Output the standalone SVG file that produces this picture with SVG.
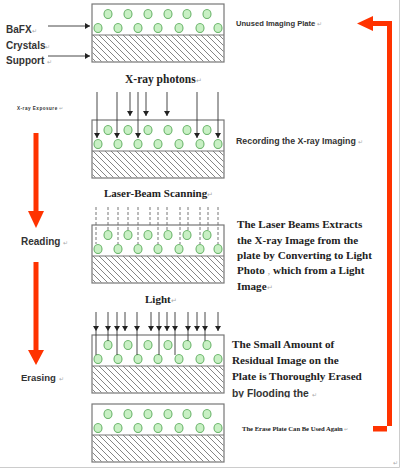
<svg xmlns="http://www.w3.org/2000/svg" xmlns:xlink="http://www.w3.org/1999/xlink" width="403" height="469" viewBox="0 0 403 469">
<style>
.sans{font-family:"Liberation Sans",Arial,sans-serif;font-weight:bold;fill:#333}
.serif{font-family:"Liberation Serif","Times New Roman",serif;font-weight:bold;fill:#222}
.pm{fill:#aaa;font-weight:normal}
.ray{stroke:#333;stroke-width:0.9;fill:none}
.dash{stroke:#666;stroke-width:0.9;stroke-dasharray:3,2;fill:none}
.red{fill:#ff3300}
.crystal{fill:#c8f0c4;stroke:#6ab46a;stroke-width:1.1}
</style>
<defs>
<pattern id="hatch" patternUnits="userSpaceOnUse" width="6" height="6">
<path d="M0,0 L6,6 M-1,5 L1,7 M5,-1 L7,1" stroke="#666" stroke-width="0.8"/>
</pattern>
<marker id="ah" markerUnits="userSpaceOnUse" markerWidth="6" markerHeight="6" refX="5" refY="3" orient="auto">
<path d="M0,0 L5,3 L0,6 z" fill="#222"/>
</marker>
<g id="plate">
<rect x="0" y="0" width="132" height="58" fill="#fff" stroke="#777" stroke-width="1.2"/>
<rect x="0.6" y="31" width="130.8" height="26.4" fill="url(#hatch)"/>
<line x1="0" y1="31" x2="132" y2="31" stroke="#777" stroke-width="1.2"/>
<g class="crystal">
<ellipse cx="16" cy="10" rx="4" ry="4.5"/>
<ellipse cx="36" cy="10" rx="4" ry="4.5"/>
<ellipse cx="56" cy="10" rx="4" ry="4.5"/>
<ellipse cx="76" cy="10" rx="4" ry="4.5"/>
<ellipse cx="95" cy="10" rx="4" ry="4.5"/>
<ellipse cx="115" cy="10" rx="4" ry="4.5"/>
<ellipse cx="6" cy="24" rx="4" ry="4.5"/>
<ellipse cx="26" cy="24" rx="4" ry="4.5"/>
<ellipse cx="46" cy="24" rx="4" ry="4.5"/>
<ellipse cx="66" cy="24" rx="4" ry="4.5"/>
<ellipse cx="87" cy="24" rx="4" ry="4.5"/>
<ellipse cx="108" cy="24" rx="4" ry="4.5"/>
<ellipse cx="126" cy="24" rx="4" ry="4.5"/>
</g>
</g>
<clipPath id="clipPara"><rect x="0" y="0" width="403" height="397.5"/></clipPath>
</defs>
<rect width="403" height="469" fill="#fff"/>
<polyline points="399.5,0 399.5,467.5 0,467.5" fill="none" stroke="#ccc" stroke-width="1"/>

<g id="plate1"><use xlink:href="#plate" href="#plate" x="92" y="4"/></g>
<g id="plate2"><use xlink:href="#plate" href="#plate" x="92" y="120"/></g>
<g id="plate3"><use xlink:href="#plate" href="#plate" x="92" y="225"/></g>
<g id="plate4"><use xlink:href="#plate" href="#plate" x="92" y="335"/></g>
<g id="plate5"><use xlink:href="#plate" href="#plate" x="92" y="404"/></g>

<g id="connectors">
<line class="ray" x1="48" y1="26" x2="90" y2="26" marker-end="url(#ah)" stroke-width="1.1"/>
<line class="ray" x1="48" y1="56" x2="90" y2="56" marker-end="url(#ah)" stroke-width="1.1"/>
<line class="ray" x1="97" y1="92" x2="97" y2="138" marker-end="url(#ah)"/>
<line class="ray" x1="117" y1="92" x2="117" y2="138" marker-end="url(#ah)"/>
<line class="ray" x1="130" y1="92" x2="130" y2="116" marker-end="url(#ah)"/>
<line class="ray" x1="138" y1="92" x2="138" y2="138" marker-end="url(#ah)"/>
<line class="ray" x1="146" y1="92" x2="146" y2="116" marker-end="url(#ah)"/>
<line class="ray" x1="167" y1="92" x2="167" y2="116" marker-end="url(#ah)"/>
<line class="ray" x1="197" y1="92" x2="197" y2="138" marker-end="url(#ah)"/>
<line class="ray" x1="218" y1="92" x2="218" y2="138" marker-end="url(#ah)"/>
<line class="dash" x1="96" y1="207" x2="96" y2="244"/>
<line class="dash" x1="108" y1="207" x2="108" y2="230"/>
<line class="dash" x1="118" y1="207" x2="118" y2="244"/>
<line class="dash" x1="128" y1="207" x2="128" y2="230"/>
<line class="dash" x1="138" y1="207" x2="138" y2="244"/>
<line class="dash" x1="150" y1="207" x2="150" y2="225"/>
<line class="dash" x1="158" y1="207" x2="158" y2="244"/>
<line class="dash" x1="167" y1="207" x2="167" y2="230"/>
<line class="dash" x1="180" y1="207" x2="180" y2="244"/>
<line class="dash" x1="188" y1="207" x2="188" y2="230"/>
<line class="dash" x1="200" y1="207" x2="200" y2="244"/>
<line class="dash" x1="208" y1="207" x2="208" y2="230"/>
<line class="dash" x1="218" y1="207" x2="218" y2="244"/>
<line class="ray" x1="96" y1="312" x2="96" y2="331" marker-end="url(#ah)"/>
<line class="ray" x1="108" y1="312" x2="108" y2="331" marker-end="url(#ah)"/>
<line class="ray" x1="117" y1="312" x2="117" y2="331" marker-end="url(#ah)"/>
<line class="ray" x1="125" y1="312" x2="125" y2="331" marker-end="url(#ah)"/>
<line class="ray" x1="137" y1="312" x2="137" y2="331" marker-end="url(#ah)"/>
<line class="ray" x1="151" y1="312" x2="151" y2="331" marker-end="url(#ah)"/>
<line class="ray" x1="159" y1="312" x2="159" y2="331" marker-end="url(#ah)"/>
<line class="ray" x1="167" y1="312" x2="167" y2="331" marker-end="url(#ah)"/>
<line class="ray" x1="175" y1="312" x2="175" y2="331" marker-end="url(#ah)"/>
<line class="ray" x1="188" y1="312" x2="188" y2="331" marker-end="url(#ah)"/>
<line class="ray" x1="197" y1="312" x2="197" y2="331" marker-end="url(#ah)"/>
<line class="ray" x1="205" y1="312" x2="205" y2="331" marker-end="url(#ah)"/>
<line class="ray" x1="218" y1="312" x2="218" y2="331" marker-end="url(#ah)"/>
<path class="ray" d="M96,331 V355 M108,331 V341 M117,331 V355 M137,331 V355 M159,331 V355 M175,331 V355 M188,331 V341 M205,331 V341"/>
<rect class="red" x="33.5" y="133" width="5" height="80"/>
<polygon class="red" points="28,211 44,211 36,228"/>
<rect class="red" x="33.5" y="262" width="5" height="90"/>
<polygon class="red" points="28,350 44,350 36,365"/>
<polygon class="red" points="373,426 392,426 392,21 373,21 373,16 357,23.5 373,31 373,26 387,26 387,431.5 373,431.5"/>
</g>

<g id="labels">
<text class="sans" x="6" y="33" font-size="10">BaFX<tspan class="pm" font-size="6">↵</tspan></text>
<text class="sans" x="6" y="49" font-size="10">Crystals<tspan class="pm" font-size="6">↵</tspan></text>
<text class="sans" x="6" y="64" font-size="10">Support <tspan class="pm" font-size="6">↵</tspan></text>
<text class="sans" x="236" y="26" font-size="7.6">Unused Imaging Plate <tspan class="pm" font-size="6">↵</tspan></text>
<text class="serif" x="125" y="83" font-size="11.5">X-ray photons<tspan class="pm" font-size="7">↵</tspan></text>
<text class="sans" x="17" y="110" font-size="4.6" font-weight="normal" letter-spacing="0.5">X-ray  Exposure <tspan class="pm">↵</tspan></text>
<text class="sans" x="236" y="144" font-size="8.8">Recording the X-ray Imaging <tspan class="pm" font-size="6">↵</tspan></text>
<text class="serif" x="104" y="197" font-size="11">Laser-Beam Scanning<tspan class="pm" font-size="7">↵</tspan></text>
<text class="sans" x="21" y="245" font-size="10">Reading <tspan class="pm" font-size="6">↵</tspan></text>
<text class="serif" font-size="11.1">
<tspan x="237" y="228">The Laser Beams Extracts</tspan>
<tspan x="237" y="244">the X-ray Image from the</tspan>
<tspan x="237" y="259">plate by Converting to Light</tspan>
<tspan x="237" y="274">Photo <tspan class="pm">,</tspan>    which from a Light</tspan>
<tspan x="237" y="290">Image<tspan class="pm" font-size="7">↵</tspan></tspan>
</text>
<text class="serif" x="145" y="303" font-size="11">Light<tspan class="pm" font-size="7">↵</tspan></text>
<text class="sans" x="21" y="381" font-size="9.5">Erasing <tspan class="pm" font-size="6">↵</tspan></text>
<g clip-path="url(#clipPara)">
<text class="serif" font-size="11.2">
<tspan x="232" y="348">The Small Amount of</tspan>
<tspan x="232" y="364">Residual Image on the</tspan>
<tspan x="232" y="380">Plate is Thoroughly Erased</tspan>
</text>
<text class="sans" x="232" y="397" font-size="10.3">by Flooding the <tspan class="pm" font-size="6">↵</tspan></text>
</g>
<text class="serif" x="242" y="431" font-size="6.6">The Erase Plate Can Be Used Again <tspan class="pm" font-size="5">↵</tspan></text>
<text class="pm" x="393" y="465" font-size="6" font-family="Liberation Sans, sans-serif">↵</text>
</g>
</svg>
